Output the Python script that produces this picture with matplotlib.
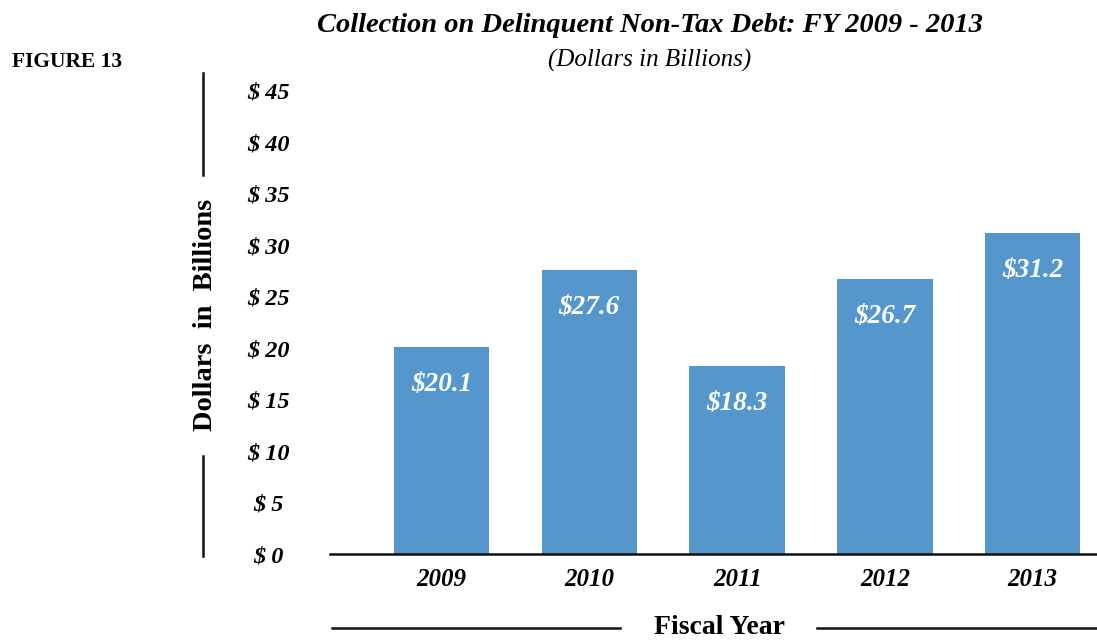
import matplotlib.pyplot as plt
import numpy as np

years = ["2009", "2010", "2011", "2012", "2013"]
values = [20.1, 27.6, 18.3, 26.7, 31.2]
value_labels = ["$20.1", "$27.6", "$18.3", "$26.7", "$31.2"]
y_ticks = [0, 5, 10, 15, 20, 25, 30, 35, 40, 45]
y_tick_labels = ["$ 0", "$ 5", "$ 10", "$ 15", "$ 20", "$ 25", "$ 30", "$ 35", "$ 40", "$ 45"]

plt.rcParams['font.family'] = ['Liberation Serif', 'DejaVu Serif']

W, H = 1097, 640
fig = plt.figure(figsize=(W / 100, H / 100), dpi=100)
ax = fig.add_axes([330 / W, (H - 554) / H, (W - 330) / W, (554 - 91) / H])

x = np.arange(len(years))
ax.bar(x, values, width=0.645, color='#5597cc', zorder=2)
ax.set_xlim(-0.755, 4.435)
ax.set_ylim(0, 45)

for xi, v, lab in zip(x, values, value_labels):
    ax.annotate(lab, (xi, v), xytext=(0, -27), textcoords='offset points',
                ha='center', va='center', color='white', fontsize=19.5,
                fontweight='bold', fontstyle='italic')

for s in ['top', 'right', 'left']:
    ax.spines[s].set_visible(False)
ax.spines['bottom'].set_linewidth(1.8)
ax.spines['bottom'].set_color('#111111')

ax.set_yticks(y_ticks)
ax.set_yticklabels(y_tick_labels, fontsize=17.5, fontweight='bold', fontstyle='italic', ha='center')
ax.tick_params(axis='y', length=0, pad=44)
ax.set_xticks(x)
ax.set_xticklabels(years, fontsize=18, fontweight='bold', fontstyle='italic')
ax.tick_params(axis='x', length=0, pad=10)

# titles and labels
fig.text(650 / W, 1 - 25 / H, "Collection on Delinquent Non-Tax Debt: FY 2009 - 2013",
         ha='center', va='center', fontsize=20.5, fontweight='bold', fontstyle='italic')
fig.text(650 / W, 1 - 60 / H, "(Dollars in Billions)", ha='center', va='center',
         fontsize=18, fontstyle='italic')
fig.text(12 / W, 1 - 62 / H, "FIGURE 13", ha='left', va='center', fontsize=15.5, fontweight='bold')
fig.text(205 / W, 1 - 315 / H, "Dollars  in  Billions", rotation=90, ha='center', va='center',
         fontsize=20.5, fontweight='bold')
fig.text(719 / W, 1 - 628 / H, "Fiscal Year", ha='center', va='center', fontsize=20, fontweight='bold')

# decorative rules
fig.add_artist(plt.Line2D([203 / W, 203 / W], [1 - 73 / H, 1 - 175 / H], color='#111111', lw=1.8))
fig.add_artist(plt.Line2D([203 / W, 203 / W], [1 - 456 / H, 1 - 556 / H], color='#111111', lw=1.8))
fig.add_artist(plt.Line2D([332 / W, 620 / W], [1 - 628 / H, 1 - 628 / H], color='#111111', lw=1.8))
fig.add_artist(plt.Line2D([817 / W, 1097 / W], [1 - 628 / H, 1 - 628 / H], color='#111111', lw=1.8))

fig.savefig("out.png", dpi=100)
